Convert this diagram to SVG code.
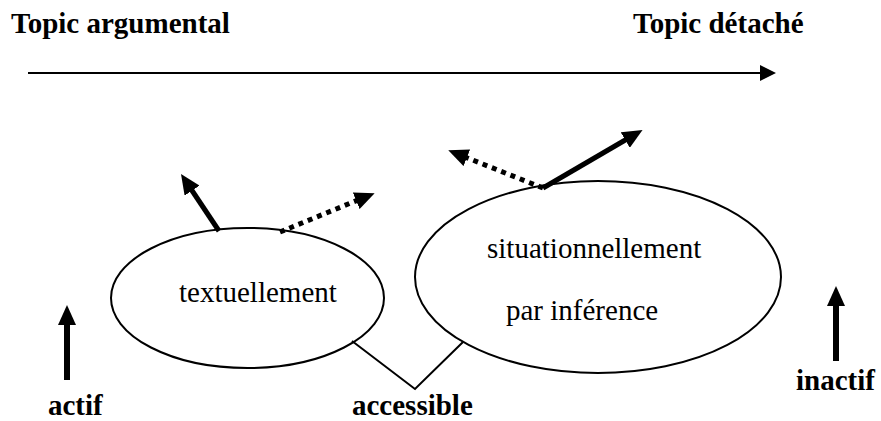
<svg xmlns="http://www.w3.org/2000/svg" width="881" height="421" viewBox="0 0 881 421">
<defs>
<style>
.b{font-family:"Liberation Serif","Times New Roman",serif;font-weight:bold;font-size:29px;fill:#000}
.r{font-family:"Liberation Serif","Times New Roman",serif;font-size:29px;fill:#000}
.e{fill:none;stroke:#000;stroke-width:2}
.thick{stroke:#000;stroke-width:5;fill:none}
.dot{stroke:#000;stroke-width:5;fill:none;stroke-dasharray:5 5}
.thin{stroke:#000;stroke-width:2;fill:none}
</style>
<marker id="h" markerUnits="userSpaceOnUse" viewBox="0 0 20 18" refX="2" refY="9" markerWidth="20" markerHeight="18" orient="auto">
<path d="M0,0 L20,9 L0,18 Z" fill="#000"/>
</marker>
<marker id="hs" markerUnits="userSpaceOnUse" viewBox="0 0 16 16" refX="2" refY="8" markerWidth="16" markerHeight="16" orient="auto">
<path d="M0,0 L16,8 L0,16 Z" fill="#000"/>
</marker>
</defs>
<rect width="881" height="421" fill="#fff"/>
<g id="labels">
<text class="b" x="11" y="33">Topic argumental</text>
<text class="b" x="633" y="33">Topic détaché</text>
<text class="b" x="48" y="415">actif</text>
<text class="b" x="796" y="390">inactif</text>
<text class="b" x="352" y="415">accessible</text>
</g>
<g id="node-textuellement">
<ellipse class="e" cx="247.5" cy="298" rx="136.5" ry="70"/>
<text class="r" x="179" y="302">textuellement</text>
</g>
<g id="node-situationnellement">
<ellipse class="e" cx="598" cy="277" rx="183" ry="96"/>
<text class="r" x="487" y="258">situationnellement</text>
<text class="r" x="506" y="320">par inférence</text>
</g>
<g id="connectors">
<line class="thin" x1="28" y1="73" x2="762" y2="73" marker-end="url(#hs)"/>
<line x1="67" y1="380" x2="67" y2="323" stroke="#000" stroke-width="6" marker-end="url(#h)"/>
<line x1="836" y1="361" x2="836" y2="304" stroke="#000" stroke-width="6" marker-end="url(#h)"/>
<line class="thick" x1="219" y1="231" x2="191" y2="189" marker-end="url(#h)"/>
<line class="dot" x1="280" y1="232" x2="358" y2="200" marker-end="url(#h)"/>
<line class="dot" x1="543" y1="188" x2="465" y2="157" marker-end="url(#h)"/>
<line class="thick" x1="543" y1="188" x2="627" y2="139" marker-end="url(#h)"/>
<polyline class="thin" points="352,341 415,389 463,342"/>
</g>
</svg>
